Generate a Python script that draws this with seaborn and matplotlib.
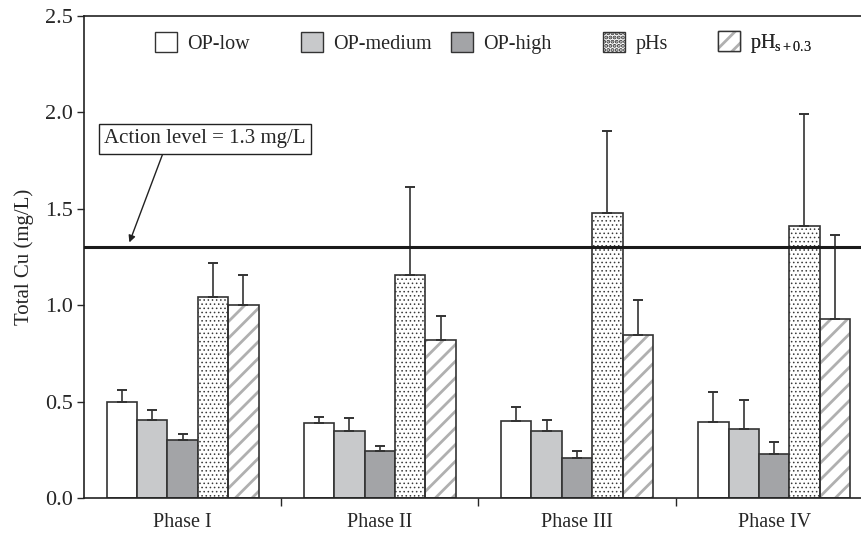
import numpy as np
import pandas as pd
import matplotlib
matplotlib.use("Agg")
import matplotlib.pyplot as plt
import matplotlib.patches as mpatches
import seaborn as sns

# veriler
phases = ["Phase I", "Phase II", "Phase III", "Phase IV"]
treatments = ["OP-low", "OP-medium", "OP-high", "pHs", "pHs+0.3"]

op_low = [0.50, 0.39, 0.40, 0.395]
op_medium = [0.405, 0.35, 0.345, 0.36]
op_high = [0.30, 0.245, 0.205, 0.228]
phs = [1.04, 1.155, 1.48, 1.41]
phs_03 = [1.00, 0.82, 0.845, 0.927]

# hata cubugu ust uclari
op_low_top = [0.56, 0.42, 0.47, 0.55]
op_medium_top = [0.455, 0.415, 0.406, 0.507]
op_high_top = [0.333, 0.27, 0.244, 0.292]
phs_top = [1.22, 1.61, 1.905, 1.99]
phs_03_top = [1.155, 0.945, 1.025, 1.365]

action_level = 1.3

values = [op_low, op_medium, op_high, phs, phs_03]
tops = [op_low_top, op_medium_top, op_high_top, phs_top, phs_03_top]

rows = []
for t, vals in zip(treatments, values):
    for p, v in zip(phases, vals):
        rows.append({"phase": p, "treatment": t, "value": v})
df = pd.DataFrame(rows)

sns.set_style("ticks")
plt.rcParams["font.family"] = ["Liberation Serif", "DejaVu Serif"]
plt.rcParams["mathtext.fontset"] = "custom"
plt.rcParams["mathtext.rm"] = "Liberation Serif"
plt.rcParams["mathtext.it"] = "Liberation Serif"
plt.rcParams["hatch.linewidth"] = 2.0

edge = "#333333"
fills = ["white", "#c8c9cb", "#a3a4a7", "white", "white"]
hatches = [None, None, None, "....", "//"]
hatch_colors = [edge, edge, edge, "#3a3a3a", "#b0b0b0"]
hatch_lws = [1, 1, 1, 0.6, 2.0]

fig = plt.figure(figsize=(8.61, 5.34), dpi=100)
ax = fig.add_axes([0.0976, 0.0674, 0.916, 0.903])

sns.barplot(data=df, x="phase", y="value", hue="treatment", order=phases,
            hue_order=treatments, palette=fills, width=0.77,
            edgecolor=edge, linewidth=1.2, errorbar=None,
            legend=False, ax=ax, saturation=1)


def style_hatch(p, i):
    # tarama rengi kenar rengiyle gelir, kenari ayrica ciziliyor
    p.set_hatch(hatches[i])
    p.set_edgecolor(hatch_colors[i])
    p.set_linewidth(0)
    if hasattr(p, "set_hatch_linewidth"):
        p.set_hatch_linewidth(hatch_lws[i])


bar_conts = list(ax.containers)
for i, cont in enumerate(bar_conts):
    xs = []
    hs = []
    for bar in cont:
        if hatches[i]:
            style_hatch(bar, i)
            ax.add_patch(mpatches.Rectangle(bar.get_xy(), bar.get_width(), bar.get_height(),
                                            fill=False, ec=edge, lw=1.2, zorder=bar.get_zorder()))
        xs.append(bar.get_x() + bar.get_width() / 2)
        hs.append(bar.get_height())
    xs = np.array(xs)
    hs = np.array(hs)
    up = np.array(tops[i]) - hs
    ax.errorbar(xs, hs, yerr=[np.zeros_like(up), up], fmt="none",
                ecolor=edge, elinewidth=1.2, capsize=3.5, capthick=1.4,
                zorder=1)

ax.axhline(action_level, color="#1a1a1a", lw=2.2, zorder=5)

ax.annotate("Action level = 1.3 mg/L", xy=(-0.27, 1.325), xytext=(0.114, 1.862),
            fontsize=15, ha="center", va="center",
            bbox=dict(boxstyle="square,pad=0.25", fc="white", ec="#222222", lw=1),
            arrowprops=dict(arrowstyle="-|>", color="#222222", lw=1,
                            mutation_scale=10, relpos=(0.3, 0), shrinkA=0, shrinkB=0))

ax.set_ylim(0, 2.5)
ax.set_xlim(-0.5, 3.5)
ax.set_yticks([0.0, 0.5, 1.0, 1.5, 2.0, 2.5])
ax.set_yticklabels(["0.0", "0.5", "1.0", "1.5", "2.0", "2.5"], fontsize=16)
ax.set_ylabel("Total Cu (mg/L)", fontsize=15, labelpad=8)
ax.set_xlabel("")
ax.tick_params(axis="x", length=0, labelsize=14.5, pad=11)
ax.set_xticks([0.5, 1.5, 2.5], minor=True)
ax.tick_params(axis="x", which="minor", length=6, width=1, direction="out")
ax.tick_params(axis="y", length=5, width=1, direction="out", pad=3)
for s in ax.spines.values():
    s.set_linewidth(1.2)
    s.set_color("#222222")

# lejant: her oge kendi yerinde
labels = ["OP-low", "OP-medium", "OP-high", "pHs", r"pH$_{\mathrm{s+0.3}}$"]
leg_x = [0.0900, 0.2752, 0.4654, 0.6581, 0.8040]
for i, lab in enumerate(labels):
    if hatches[i]:
        h1 = mpatches.Patch(facecolor=fills[i], hatch=hatches[i])
        style_hatch(h1, i)
        h2 = mpatches.Patch(fill=False, edgecolor=edge, lw=1)
        h = (h1, h2)
    else:
        h = mpatches.Patch(facecolor=fills[i], edgecolor=edge, lw=1)
    leg = ax.legend([h], [lab], frameon=False, loc="center left",
                    bbox_to_anchor=(leg_x[i], 0.944), fontsize=14.5, handlelength=1.1,
                    handleheight=1.2, handletextpad=0.5, borderpad=0, borderaxespad=0)
    ax.add_artist(leg)

plt.savefig("out.png", dpi=100)
